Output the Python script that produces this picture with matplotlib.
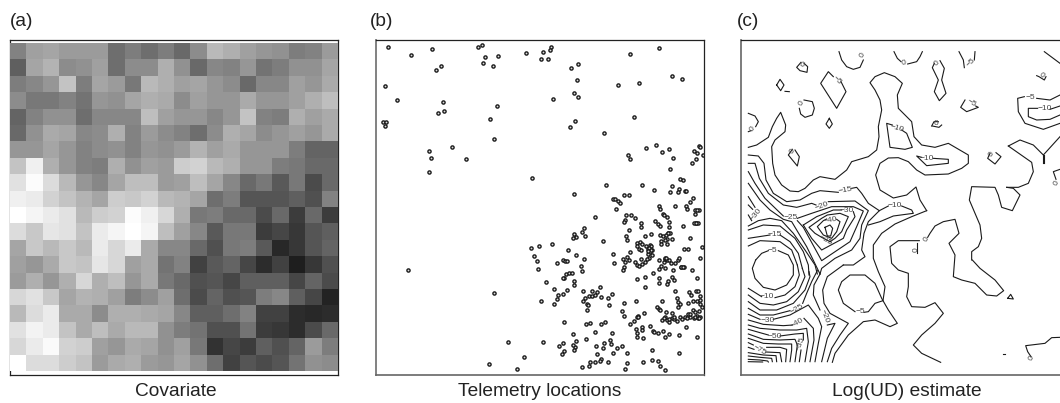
# Covariate, telemetry locations and log(UD) estimate panels
import numpy as np
import matplotlib
matplotlib.use('Agg')
import matplotlib.pyplot as plt

plt.rcParams['font.family'] = ['Liberation Sans', 'DejaVu Sans']

# covariate grey levels (0-255), top row first
covariate = np.array([
    [130, 160, 165, 155, 155, 155, 110, 125, 110, 125, 105, 140, 185, 175, 160, 150, 145, 125, 130, 155],
    [95, 165, 180, 140, 145, 160, 110, 140, 140, 175, 145, 105, 135, 130, 150, 115, 125, 145, 145, 165],
    [125, 135, 150, 195, 125, 165, 155, 120, 185, 175, 160, 165, 150, 140, 105, 135, 135, 160, 150, 170],
    [140, 120, 120, 130, 115, 150, 145, 165, 175, 170, 140, 160, 150, 150, 170, 150, 150, 160, 175, 190],
    [100, 130, 145, 145, 110, 135, 135, 135, 190, 160, 150, 150, 135, 150, 195, 130, 125, 175, 160, 170],
    [105, 145, 170, 165, 135, 140, 175, 130, 155, 140, 130, 110, 140, 175, 165, 140, 150, 160, 150, 170],
    [150, 150, 165, 150, 130, 140, 145, 130, 150, 145, 155, 180, 160, 170, 150, 150, 150, 125, 100, 100],
    [195, 240, 175, 150, 130, 125, 175, 145, 160, 155, 205, 210, 185, 175, 150, 150, 125, 120, 105, 105],
    [225, 252, 220, 185, 150, 135, 165, 190, 190, 155, 160, 190, 165, 135, 105, 120, 90, 120, 75, 105],
    [240, 235, 210, 195, 180, 165, 205, 200, 210, 185, 180, 165, 110, 125, 85, 85, 85, 95, 80, 130],
    [255, 245, 235, 225, 185, 205, 210, 252, 240, 215, 175, 120, 125, 105, 105, 75, 105, 60, 105, 60],
    [220, 200, 230, 225, 195, 235, 245, 255, 245, 190, 160, 135, 90, 120, 120, 60, 70, 55, 85, 95],
    [165, 200, 185, 200, 185, 235, 215, 235, 170, 135, 135, 105, 80, 120, 125, 90, 40, 55, 85, 100],
    [160, 150, 170, 200, 195, 230, 215, 160, 170, 115, 130, 65, 90, 100, 70, 45, 65, 30, 55, 80],
    [155, 175, 150, 175, 215, 175, 190, 150, 170, 120, 105, 80, 85, 70, 95, 95, 95, 70, 100, 75],
    [215, 225, 200, 165, 180, 175, 160, 125, 140, 160, 110, 75, 100, 80, 85, 125, 135, 95, 70, 35],
    [185, 220, 235, 170, 170, 140, 175, 175, 170, 165, 135, 95, 95, 110, 130, 65, 65, 45, 40, 45],
    [225, 243, 235, 195, 170, 190, 170, 185, 185, 145, 125, 115, 80, 80, 115, 60, 55, 45, 75, 105],
    [215, 235, 250, 210, 205, 160, 150, 170, 165, 145, 160, 120, 50, 70, 60, 95, 80, 100, 155, 125],
    [255, 220, 220, 205, 195, 155, 170, 175, 155, 150, 165, 145, 110, 65, 85, 75, 85, 115, 145, 140],
])

# telemetry locations, digitised units (y grows downward)
telemetry_upper = [
    (67, 51), (136, 73), (199, 55), (337, 50), (349, 43), (360, 80), (398, 76), (353, 97), (383, 107),
    (226, 107), (211, 119), (483, 69), (534, 66), (557, 51), (555, 60), (527, 87), (548, 86), (617, 113),
    (639, 100), (636, 150), (794, 72), (881, 52), (921, 138), (949, 146), (757, 163), (822, 158), (59, 167),
    (96, 208), (234, 216), (219, 248), (236, 242), (394, 227), (374, 267), (562, 205), (626, 187), (637, 199),
    (629, 271), (614, 289), (807, 261), (715, 309), (52, 274), (63, 274), (59, 288), (386, 325), (190, 362),
    (196, 383), (192, 424), (261, 350), (303, 386), (499, 444), (625, 490), (721, 464), (829, 463), (866, 478),
    (843, 354), (871, 343), (889, 364), (912, 355), (924, 382), (915, 417), (789, 375), (795, 387), (1001, 348),
    (1004, 350), (986, 361), (995, 367), (1013, 373), (993, 385), (979, 399), (944, 445), (953, 448), (921, 467),
    (940, 475), (938, 485), (913, 485), (958, 482), (963, 482), (983, 502), (975, 514), (961, 527), (965, 535),
    (928, 528), (881, 527), (883, 535), (775, 495), (790, 494), (742, 507), (750, 506), (757, 512), (763, 518),
    (752, 537),
]
telemetry_lower = [
    (689, 51), (781, 45), (798, 44), (808, 53), (778, 58), (776, 65), (790, 88), (827, 68), (826, 81), (870, 62),
    (878, 70), (884, 77), (893, 40), (897, 44), (905, 50), (911, 65), (910, 81), (907, 98), (914, 98), (952, 76),
    (992, 67), (985, 68), (997, 67), (1000, 28), (990, 30), (996, 28), (989, 42), (655, 83), (651, 95), (659, 107),
    (625, 100), (631, 110), (624, 113), (712, 121), (783, 106), (784, 118), (839, 108), (857, 100), (885, 104),
    (893, 106), (901, 103), (908, 97), (921, 115), (906, 116), (899, 120), (888, 122), (886, 132), (905, 130),
    (975, 112), (815, 128), (825, 125), (830, 130), (815, 138), (820, 146), (828, 148), (842, 138), (853, 135),
    (858, 138), (847, 145), (860, 148), (855, 155), (849, 160), (860, 165), (852, 172), (845, 175), (957, 147),
    (967, 146), (1010, 140), (1003, 172), (497, 143), (520, 137), (560, 130), (607, 148), (633, 165), (657, 175),
    (505, 167), (516, 183), (517, 204), (576, 188), (593, 180), (600, 182), (606, 183), (648, 195), (651, 211),
    (744, 161), (745, 187), (772, 176), (785, 170), (790, 180), (780, 185), (775, 198), (773, 208), (793, 155),
    (808, 185), (815, 192), (822, 197), (830, 190), (838, 185), (828, 177), (880, 205), (887, 195), (895, 185),
    (900, 175), (905, 180), (910, 178), (918, 187), (928, 187), (938, 180), (941, 172), (900, 203), (922, 208),
    (948, 198), (956, 199), (979, 207), (862, 216), (838, 229), (816, 234), (880, 232), (881, 248), (907, 241),
    (904, 250), (920, 230), (925, 237), (995, 233), (839, 259), (541, 245), (567, 264), (592, 279), (605, 268),
    (577, 283), (575, 295), (526, 301), (565, 311), (597, 232), (603, 220), (610, 218), (620, 218), (593, 232),
    (627, 241), (627, 252), (652, 270), (681, 271), (672, 285), (680, 285), (690, 283), (695, 275), (704, 260),
    (706, 290), (728, 291), (741, 280), (658, 293), (652, 300), (666, 310), (668, 312), (665, 327), (731, 314),
    (776, 306), (812, 300), (769, 330), (776, 345), (835, 336), (818, 345), (816, 350), (805, 362), (795, 371),
    (930, 272), (970, 275), (978, 283), (993, 270), (997, 272), (1003, 285), (935, 292), (937, 303), (943, 310),
    (937, 320), (890, 301), (968, 306), (983, 300), (995, 300), (1003, 297), (1005, 310), (875, 320), (880, 325),
    (885, 328), (903, 335), (920, 337), (890, 357), (900, 350), (905, 358), (912, 365), (920, 352), (927, 355),
    (935, 360), (945, 350), (960, 348), (968, 340), (975, 350), (982, 328), (990, 335), (995, 345), (1002, 332),
    (1010, 320), (1005, 350), (985, 352), (975, 340), (597, 363), (662, 371), (673, 368), (708, 369), (718, 364),
    (688, 395), (741, 396), (812, 386), (815, 398), (830, 378), (830, 389), (815, 408), (832, 413), (855, 375),
    (864, 390), (866, 395), (877, 398), (893, 390), (910, 400), (900, 408), (942, 404), (962, 379), (994, 408),
    (622, 399), (661, 416), (633, 422), (630, 438), (623, 433), (625, 449), (594, 426), (580, 436), (595, 452),
    (590, 461), (532, 425), (428, 424), (476, 469), (370, 489), (454, 505), (692, 437), (716, 427), (712, 441),
    (735, 418), (738, 430), (754, 441), (771, 436), (743, 456), (696, 461), (785, 457), (708, 475), (704, 481),
    (728, 484), (688, 484), (675, 484), (672, 495), (651, 498), (779, 505), (784, 487), (832, 483), (860, 479),
    (878, 480), (885, 495), (900, 507), (859, 448), (941, 457), (129, 209), (387, 278),
    (895, 352), (910, 355), (925, 348), (950, 355), (965, 352), (990, 350), (998, 352), (880, 178), (898, 172),
    (903, 172), (852, 142), (856, 148), (848, 152), (948, 199), (952, 198), (818, 348), (993, 68), (1000, 352),
]

# contour lines digitised in tiles, each tile has its own origin
lines_top = [
    [(312, 65), (320, 90), (335, 110), (355, 118), (375, 112), (385, 90)],
    [(477, 65), (487, 85), (498, 95)],
    [(518, 102), (545, 95), (555, 80), (562, 65)],
    [(672, 65), (685, 90), (688, 113)],
    [(718, 90), (720, 65)],
    [(198, 97), (185, 112), (195, 122), (216, 127), (218, 110), (207, 100)],
    [(125, 165), (135, 148), (147, 165), (137, 182), (125, 165)],
    [(150, 184), (163, 185)],
    [(295, 140), (280, 125), (257, 160), (305, 235), (333, 185), (318, 155)],
    [(207, 210), (232, 215), (238, 235), (232, 255), (210, 262), (197, 252), (193, 235)],
    [(283, 265), (292, 282), (283, 295), (273, 282), (283, 265)],
    [(40, 250), (60, 258), (70, 275), (62, 290)],
    [(48, 302), (40, 305)],
    [(40, 352), (65, 345), (100, 322), (112, 290), (125, 265), (137, 247), (152, 285), (150, 305), (120, 330),
     (110, 350), (113, 400), (120, 435), (140, 465), (165, 483), (190, 485), (210, 475), (235, 450), (255, 440),
     (300, 448), (335, 420), (350, 395), (400, 380), (425, 360), (432, 320), (430, 290), (440, 240), (435, 210),
     (420, 180), (405, 158), (420, 140), (448, 128), (480, 140), (502, 160), (487, 195), (490, 235), (530, 275),
     (537, 320), (560, 345), (600, 352), (640, 340), (700, 375), (700, 400), (680, 415), (640, 432), (570, 435),
     (545, 420), (520, 395), (490, 383), (460, 384), (435, 400), (422, 435), (435, 480), (475, 504), (515, 495),
     (543, 471), (555, 510), (575, 542)],
    [(472, 285), (455, 280), (465, 352), (510, 358), (532, 352), (515, 310), (500, 300)],
    [(560, 382), (545, 378), (575, 407), (640, 400), (640, 388), (595, 385)],
    [(690, 210), (677, 232), (695, 245), (730, 232), (722, 228)],
    [(590, 288), (597, 275), (610, 275)],
    [(620, 285), (612, 292), (592, 288)],
    [(598, 100), (592, 113), (610, 150), (598, 185), (613, 212), (633, 190), (620, 150), (628, 115), (615, 92)],
    [(905, 137), (912, 140), (928, 150), (933, 140)],
    [(928, 65), (975, 100)],
    [(975, 195), (945, 210), (905, 205)],
    [(868, 200), (848, 205), (850, 245), (870, 280), (925, 298), (975, 280)],
    [(975, 228), (945, 238)],
    [(908, 235), (880, 235), (880, 260), (905, 270), (945, 268), (975, 255)],
    [(172, 358), (160, 375), (187, 408), (193, 380), (180, 360)],
    [(765, 370), (758, 385), (780, 402), (798, 380), (783, 368)],
]
lines_left = [
    [(25, 15), (55, 18), (72, 40), (78, 90), (100, 130), (140, 155), (180, 150), (215, 130), (240, 122), (295, 127)],
    [(335, 115), (350, 112), (365, 130), (385, 160), (418, 182), (385, 215), (372, 250), (365, 300), (375, 320),
     (340, 345), (310, 345)],
    [(418, 182), (445, 168)],
    [(25, 40), (45, 40), (58, 85), (85, 130), (130, 165), (170, 172), (215, 160), (228, 165)],
    [(265, 155), (345, 153), (385, 182), (365, 225), (360, 265), (335, 300), (285, 325), (245, 355), (240, 372)],
    [(25, 65), (45, 100), (75, 145), (130, 198)],
    [(172, 205), (215, 190), (275, 170), (340, 170), (370, 183), (350, 230), (330, 275), (245, 332), (190, 232),
     (172, 212)],
    [(25, 100), (60, 150), (90, 180), (130, 208), (155, 215), (200, 290), (240, 372)],
    [(25, 140), (45, 172)],
    [(25, 165), (38, 178)],
    [(25, 195), (35, 212)],
    [(190, 225), (230, 200), (280, 180), (305, 180)],
    [(340, 185), (345, 200), (320, 240), (310, 265), (245, 300), (215, 265), (190, 225)],
    [(270, 275), (245, 262), (225, 250), (207, 232), (245, 205), (262, 195), (300, 190), (325, 200), (305, 245),
     (285, 265), (270, 275)],
    [(260, 207), (250, 212), (232, 230), (250, 255), (275, 265), (290, 245), (300, 215), (290, 208)],
    [(255, 232), (270, 225), (278, 235), (272, 258), (262, 258), (255, 232)],
    [(25, 228), (55, 212), (90, 205), (125, 212), (160, 250), (195, 300), (225, 345), (232, 372)],
    [(25, 240), (70, 225), (120, 228), (165, 265), (190, 305), (205, 345), (207, 375)],
    [(25, 265), (90, 255)],
    [(120, 255), (150, 275), (175, 310), (187, 355)],
    [(25, 288), (60, 272), (120, 275), (155, 300), (172, 345)],
]
lines_bottom = [
    [(172, 15), (178, 45), (165, 80), (135, 105), (105, 113)],
    [(65, 110), (25, 85)],
    [(187, 25), (195, 50), (175, 95), (140, 125), (100, 135), (60, 130), (25, 105)],
    [(207, 35), (210, 50), (195, 90), (160, 130), (110, 150), (60, 150), (25, 125)],
    [(232, 32), (215, 65), (200, 100), (188, 130)],
    [(150, 152), (100, 165), (60, 165), (25, 145)],
    [(310, 15), (262, 50), (248, 90), (252, 130), (270, 160), (325, 190), (300, 225), (275, 265), (262, 305)],
    [(240, 42), (222, 75), (220, 105), (240, 150)],
    [(262, 195), (285, 190), (262, 235), (245, 305)],
    [(25, 163), (60, 178)],
    [(100, 178), (150, 165), (205, 135), (235, 175), (245, 200), (235, 250), (225, 305)],
    [(25, 180), (70, 193), (130, 197), (158, 195)],
    [(192, 175), (220, 205), (222, 240), (210, 305)],
    [(25, 195), (60, 205), (120, 210), (170, 210), (200, 205), (205, 245), (195, 305)],
    [(25, 208), (60, 218), (85, 225)],
    [(120, 228), (165, 222), (190, 220), (190, 240)],
    [(183, 270), (178, 305)],
    [(25, 222), (70, 238), (120, 240), (165, 238), (172, 255), (165, 305)],
    [(25, 235), (70, 250), (115, 252), (155, 252), (155, 270), (150, 305)],
    [(25, 248), (40, 255)],
    [(80, 262), (120, 262), (140, 268), (137, 305)],
    [(25, 262), (42, 268)],
    [(78, 276), (120, 278), (125, 305)],
    [(25, 278), (70, 285), (108, 287), (110, 305)],
    [(25, 288), (60, 292), (95, 295), (97, 305)],
    [(25, 298), (60, 300), (83, 303), (85, 306)],
    [(25, 305), (68, 306)],
]
lines_mid = [
    [(62, 180), (80, 160), (100, 152)],
    [(130, 152), (160, 165), (175, 195), (175, 225), (155, 255), (120, 270), (85, 262), (60, 235), (52, 205), (62, 180)],
    [(575, 32), (530, 50), (480, 72), (440, 100), (415, 135), (415, 175), (430, 215), (450, 260), (444, 302), (460, 330),
     (487, 370), (465, 380), (420, 360), (385, 365), (340, 405), (300, 460), (292, 487)],
    [(360, 335), (325, 310), (310, 270), (320, 245), (345, 225), (390, 225), (420, 250), (440, 295), (444, 302),
     (420, 310), (400, 335), (387, 337)],
    [(712, 180), (735, 205), (780, 240), (806, 272), (785, 288), (755, 285), (720, 250), (680, 240), (655, 230),
     (660, 165), (642, 130), (672, 100), (660, 58), (625, 65), (600, 78), (585, 100), (578, 112)],
    [(553, 122), (490, 122), (465, 140), (470, 190), (490, 210), (520, 220), (520, 260), (515, 290), (530, 320),
     (570, 322), (600, 308), (625, 340), (600, 370), (560, 405), (535, 435), (560, 460), (617, 487)],
    [(545, 130), (545, 158)],
    [(818, 295), (827, 283), (835, 297), (818, 295)],
    [(975, 412), (950, 413), (930, 430), (872, 437), (878, 455), (888, 470)],
    [(805, 463), (809, 463)],
]
lines_right = [
    [(385, 48), (420, 30), (460, 45), (490, 75), (540, 20)],
    [(385, 48), (455, 97), (460, 125), (445, 160), (415, 172), (380, 172)],
    [(380, 172), (400, 175), (420, 195), (397, 242), (365, 232), (355, 195), (345, 172), (275, 170), (268, 210),
     (300, 285), (305, 325), (295, 350), (275, 365), (275, 390)],
    [(488, 75), (488, 100)],
    [(492, 75), (492, 100)],
    [(540, 118), (520, 125), (528, 148)],
    [(65, 228), (95, 240), (100, 250), (40, 258), (0, 275), (-35, 285)],
]
contour_tiles = [
    (735, 30, lines_top),
    (740, 150, lines_left),
    (740, 260, lines_bottom),
    (735, 200, lines_mid),
    (880, 130, lines_right),
]

# contour labels: text, x, y, rotation, on the same tiles
labels_top = [
    ('0', 383, 77, 60), ('0', 506, 100, 10), ('\u22125', 707, 97, 45), ('0', 198, 104, -30), ('\u22125', 305, 150, -45),
    ('0', 201, 220, 60), ('0', 52, 298, 45), ('\u221210', 485, 295, -15), ('\u221210', 575, 385, 0), ('0', 603, 280, 0),
    ('0', 605, 100, 50), ('\u22125', 708, 220, -30), ('0', 918, 137, -40), ('\u22125', 885, 203, 0),
    ('\u221210', 928, 237, 0), ('0', 172, 365, 60), ('0', 770, 373, 60), ('0', 965, 460, 60),
    ('\u221215', 332, 482, 10), ('\u221220', 260, 527, 20),
]
labels_mid = [
    ('\u221210', 478, 17, 0), ('\u221230', 335, 33, 0), ('\u221225', 168, 52, 0), ('\u221230', 62, 45, 50),
    ('\u221240', 285, 62, 10), ('\u221235', 270, 120, -30), ('\u221215', 120, 105, 0), ('\u22125', 113, 153, 0),
    ('0', 575, 117, 60), ('0', 543, 150, 90), ('\u221210', 95, 288, 0), ('\u22125', 375, 335, 0),
    ('\u221225', 187, 328, 30), ('\u221220', 268, 348, -70), ('\u221230', 97, 361, 0), ('\u221240', 187, 368, 30),
    ('\u221250', 120, 408, 0), ('\u221235', 197, 432, 70), ('\u221275', 72, 452, -30), ('0', 890, 475, 60),
]
label_tiles = [(735, 30, labels_top), (735, 200, labels_mid)]

panel_letters = ['(a)', '(b)', '(c)']
panel_titles = ['Covariate', 'Telemetry locations', 'Log(UD) estimate']

W, H = 1060, 403
fig = plt.figure(figsize=(W/100, H/100), dpi=100)


def add_panel(left, right, top=39.5, bottom=375):
    ax = fig.add_axes([left/W, 1 - bottom/H, (right - left)/W, (bottom - top)/H])
    ax.set_xticks([])
    ax.set_yticks([])
    for s in ax.spines.values():
        s.set_linewidth(0.9)
        s.set_color('#222222')
    return ax


# (a)
ax1 = add_panel(10, 337.5)
ax1.imshow(covariate, cmap='gray', vmin=0, vmax=255, extent=(0, 20, 0, 20), interpolation='nearest',
           aspect='auto', zorder=3)
ax1.set_xlim(0, 20)
ax1.set_ylim(-0.25, 20.25)

# (b)
ax2 = add_panel(376, 703.5)
upper = np.array(telemetry_upper)
lower = np.array(telemetry_lower)
ax2.plot(upper[:, 0], upper[:, 1], 'o', ms=2.3, mfc='#dddddd', mec='#1c1c1c', mew=1.0, clip_on=True)
ax2.plot(lower[:, 0], lower[:, 1] + 510, 'o', ms=2.3, mfc='#dddddd', mec='#1c1c1c', mew=1.0, clip_on=True)
ax2.set_xlim(32, 1014)
ax2.set_ylim(1033, 28)
ax2.spines['left'].set_color('#777777')
ax2.spines['left'].set_linewidth(1.3)
ax2.spines['bottom'].set_color('#666666')
ax2.spines['bottom'].set_linewidth(1.2)

# (c)
ax3 = add_panel(740.5, 1068)
for x0, y0, tile in contour_tiles:
    for line in tile:
        pts = np.array(line, dtype=float)
        ax3.plot(x0 + pts[:, 0]/3, y0 + pts[:, 1]/3, color='#1a1a1a', lw=0.8, solid_joinstyle='round')
for x0, y0, tile in label_tiles:
    for txt, lx, ly, rot in tile:
        ax3.text(x0 + lx/3, y0 + ly/3, txt, fontsize=6, color='#444444', rotation=rot,
                 ha='center', va='center')
ax3.set_xlim(740.5, 1068)
ax3.set_ylim(375, 39.5)
ax3.spines['left'].set_color('#666666')
ax3.spines['left'].set_linewidth(1.2)
ax3.spines['bottom'].set_color('#666666')
ax3.spines['bottom'].set_linewidth(1.2)

for letter, x in zip(panel_letters, [10, 370, 737]):
    fig.text(x/W, 1 - 22/H, letter, fontsize=13.8, color='#222222', ha='left', va='center')
for title, x in zip(panel_titles, [176, 540, 907]):
    fig.text(x/W, 1 - 392/H, title, fontsize=13.8, color='#222222', ha='center', va='center')

fig.savefig('out.png', dpi=100, facecolor='white')
plt.close('all')
